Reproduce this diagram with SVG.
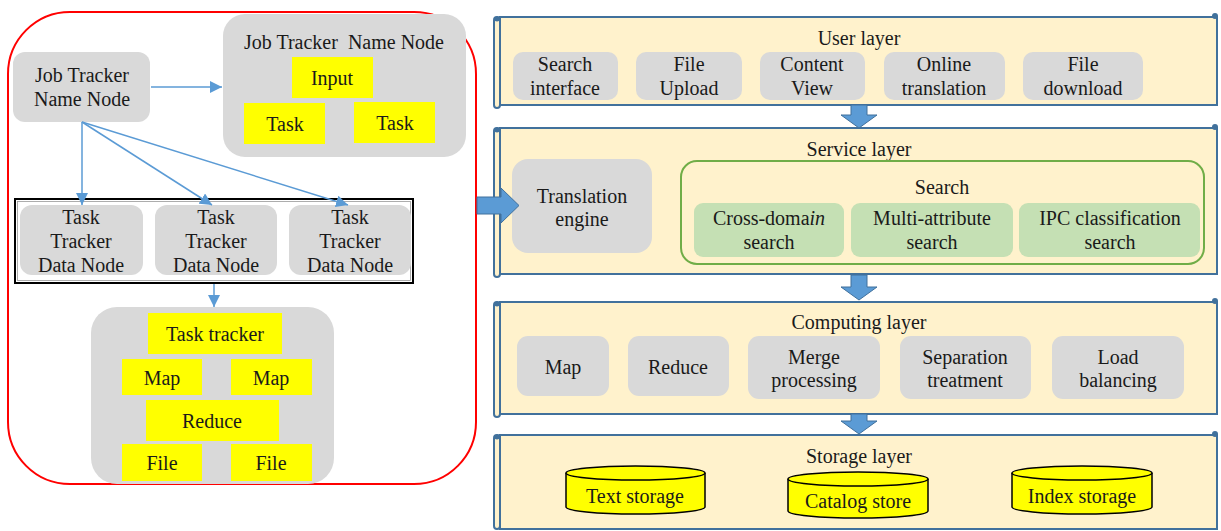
<svg xmlns="http://www.w3.org/2000/svg" width="1221" height="531" viewBox="0 0 1221 531" font-family="'Liberation Serif', 'DejaVu Serif', 'Times New Roman', serif">
<defs>
<style>
text{font-family:'Liberation Serif','DejaVu Serif','Times New Roman',serif;font-size:20px;fill:#1a1a1a;text-anchor:middle;dominant-baseline:central}
.g{fill:#D9D9D9}
.y{fill:#FFFF00}
.band{fill:#FFF2CC;stroke:#41719C;stroke-width:2}
.curl{fill:#41719C}
.gr{fill:#C5E0B4}
.cyl{fill:#FFFF00;stroke:#000;stroke-width:1.5}
.ln{stroke:#5B9BD5;stroke-width:1.5;fill:none}
.blk{fill:#5B9BD5;stroke:#41719C;stroke-width:1}
</style>
<marker id="ah2" viewBox="0 0 10 10" refX="10" refY="5" markerWidth="12" markerHeight="12" orient="auto" markerUnits="userSpaceOnUse">
<path d="M0,0 L10,5 L0,10 z" fill="#5B9BD5"/>
</marker>
</defs>

<!-- Left: Hadoop cluster -->
<g id="cluster">
<rect x="8" y="12" width="468" height="472" rx="62" ry="62" fill="#fff" stroke="#FF0000" stroke-width="2"/>
</g>

<g id="jt-left">
<rect class="g" x="13" y="52" width="137" height="70" rx="12"/>
<text x="82" y="75">Job Tracker</text>
<text x="82" y="99">Name Node</text>
</g>

<g id="jt-right">
<rect class="g" x="223" y="14" width="243" height="143" rx="22"/>
<text x="344" y="42" style="white-space:pre">Job Tracker  Name Node</text>
<rect class="y" x="292" y="57" width="81" height="41"/>
<text x="332" y="78">Input</text>
<rect class="y" x="244" y="103" width="81" height="41"/>
<text x="285" y="124">Task</text>
<rect class="y" x="354" y="102" width="81" height="41"/>
<text x="395" y="123">Task</text>
</g>

<g id="datanodes">
<rect x="15" y="199" width="398" height="84" fill="#fff" stroke="#000" stroke-width="2"/>
<rect x="17.5" y="201.5" width="393" height="79" fill="none" stroke="#999" stroke-width="0.8"/>
<g id="dn1">
<rect class="g" x="20" y="205" width="123" height="70" rx="12"/>
<text x="81" y="217">Task</text><text x="81" y="241">Tracker</text><text x="81" y="265">Data Node</text>
</g>
<g id="dn2">
<rect class="g" x="155" y="205" width="122" height="70" rx="12"/>
<text x="216" y="217">Task</text><text x="216" y="241">Tracker</text><text x="216" y="265">Data Node</text>
</g>
<g id="dn3">
<rect class="g" x="289" y="205" width="122" height="70" rx="12"/>
<text x="350" y="217">Task</text><text x="350" y="241">Tracker</text><text x="350" y="265">Data Node</text>
</g>
</g>

<g id="tasktracker">
<rect class="g" x="91" y="307" width="243" height="177" rx="26"/>
<rect class="y" x="148" y="313" width="134" height="41"/>
<text x="215" y="334">Task tracker</text>
<rect class="y" x="122" y="359" width="80" height="36"/>
<text x="162" y="378">Map</text>
<rect class="y" x="231" y="359" width="81" height="36"/>
<text x="271" y="378">Map</text>
<rect class="y" x="146" y="400" width="133" height="41"/>
<text x="212" y="421">Reduce</text>
<rect class="y" x="122" y="444" width="80" height="37"/>
<text x="162" y="463">File</text>
<rect class="y" x="231" y="444" width="81" height="37"/>
<text x="271" y="463">File</text>
</g>

<!-- Right: layers -->
<g id="user-layer">
<rect class="band" x="500" y="17" width="717" height="88"/>
<rect class="band" x="494" y="17" width="6" height="91" rx="3"/>
<circle class="curl" cx="497" cy="19" r="2.5"/>
<circle class="curl" cx="1215" cy="16" r="3"/>
<text x="859" y="38">User layer</text>
<rect class="g" x="513" y="52" width="105" height="48" rx="10"/>
<text x="565" y="64">Search</text><text x="565" y="88">interface</text>
<rect class="g" x="636" y="52" width="106" height="48" rx="10"/>
<text x="689" y="64">File</text><text x="689" y="88">Upload</text>
<rect class="g" x="760" y="52" width="105" height="48" rx="10"/>
<text x="812" y="64">Content</text><text x="812" y="88">View</text>
<rect class="g" x="884" y="52" width="121" height="48" rx="10"/>
<text x="944" y="64">Online</text><text x="944" y="88">translation</text>
<rect class="g" x="1023" y="52" width="120" height="48" rx="10"/>
<text x="1083" y="64">File</text><text x="1083" y="88">download</text>
</g>

<g id="service-layer">
<rect class="band" x="500" y="128" width="717" height="146"/>
<rect class="band" x="494" y="128" width="6" height="149" rx="3"/>
<circle class="curl" cx="497" cy="130" r="2.5"/>
<circle class="curl" cx="1215" cy="127" r="3"/>
<text x="859" y="149">Service layer</text>
<rect class="g" x="512" y="159" width="140" height="94" rx="16"/>
<text x="582" y="196">Translation</text><text x="582" y="219">engine</text>
<g id="search">
<rect x="681" y="161" width="523" height="103" rx="16" fill="none" stroke="#70AD47" stroke-width="2"/>
<text x="942" y="187">Search</text>
<rect class="gr" x="694" y="203" width="150" height="54" rx="9"/>
<text x="769" y="218">Cross-doma<tspan font-style="italic">in</tspan></text><text x="769" y="242">search</text>
<rect class="gr" x="851" y="203" width="162" height="54" rx="9"/>
<text x="932" y="218">Multi-attribute</text><text x="932" y="242">search</text>
<rect class="gr" x="1019" y="203" width="181" height="54" rx="9"/>
<text x="1110" y="218">IPC classification</text><text x="1110" y="242">search</text>
</g>
</g>

<g id="computing-layer">
<rect class="band" x="500" y="302" width="717" height="112"/>
<rect class="band" x="494" y="302" width="6" height="115" rx="3"/>
<circle class="curl" cx="497" cy="304" r="2.5"/>
<circle class="curl" cx="1215" cy="301" r="3"/>
<text x="859" y="322">Computing layer</text>
<rect class="g" x="517" y="336" width="92" height="60" rx="11"/>
<text x="563" y="367">Map</text>
<rect class="g" x="628" y="336" width="101" height="60" rx="11"/>
<text x="678" y="367">Reduce</text>
<rect class="g" x="748" y="336" width="132" height="63" rx="11"/>
<text x="814" y="357">Merge</text><text x="814" y="380">processing</text>
<rect class="g" x="900" y="336" width="131" height="63" rx="11"/>
<text x="965" y="357">Separation</text><text x="965" y="380">treatment</text>
<rect class="g" x="1052" y="336" width="132" height="63" rx="11"/>
<text x="1118" y="357">Load</text><text x="1118" y="380">balancing</text>
</g>

<g id="storage-layer">
<rect class="band" x="500" y="435" width="717" height="94"/>
<rect class="band" x="494" y="435" width="6" height="94" rx="3"/>
<circle class="curl" cx="497" cy="437" r="2.5"/>
<circle class="curl" cx="1215" cy="434" r="3"/>
<text x="859" y="456">Storage layer</text>
<g id="text-storage">
<path class="cyl" d="M566,473 L566,507 A69.5,7 0 0 0 705,507 L705,473"/>
<ellipse class="cyl" cx="635.5" cy="473" rx="69.5" ry="7"/>
<text x="635" y="496">Text storage</text>
</g>
<g id="catalog-store">
<path class="cyl" d="M788,479 L788,511 A70,7 0 0 0 928,511 L928,479"/>
<ellipse class="cyl" cx="858" cy="479" rx="70" ry="7"/>
<text x="858" y="501">Catalog store</text>
</g>
<g id="index-storage">
<path class="cyl" d="M1012,473 L1012,507 A70,7 0 0 0 1152,507 L1152,473"/>
<ellipse class="cyl" cx="1082" cy="473" rx="70" ry="7"/>
<text x="1082" y="496">Index storage</text>
</g>
</g>

<g id="connectors">
<line class="ln" x1="151" y1="87" x2="222" y2="87" marker-end="url(#ah2)"/>
<line class="ln" x1="82" y1="122" x2="82" y2="205" marker-end="url(#ah2)"/>
<line class="ln" x1="82" y1="122" x2="212" y2="205" marker-end="url(#ah2)"/>
<line class="ln" x1="82" y1="122" x2="348" y2="205" marker-end="url(#ah2)"/>
<line class="ln" x1="214" y1="284" x2="214" y2="307" marker-end="url(#ah2)"/>
<path class="blk" d="M477,197 L501,197 L501,188 L519,205.5 L501,223 L501,214 L477,214 z"/>
<path class="blk" d="M851,105 L867,105 L867,115 L877,115 L859,128 L841,115 L851,115 z"/>
<path class="blk" d="M851,275 L867,275 L867,287 L877,287 L859,300 L841,287 L851,287 z"/>
<path class="blk" d="M851,414 L867,414 L867,421 L877,421 L859,434 L841,421 L851,421 z"/>
</g>
</svg>
